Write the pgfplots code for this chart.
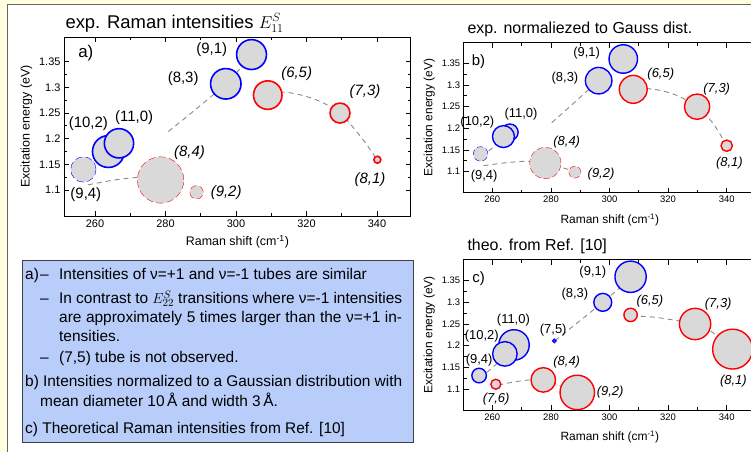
\documentclass[border=0pt]{standalone}
\usepackage{fontspec}
\setmainfont{Liberation Sans}
\usepackage{pgfplots}
\pgfplotsset{compat=1.18}

\definecolor{slidebg}{HTML}{FFFFE0}
\definecolor{boxblue}{HTML}{B9CDFA}
\definecolor{bubble}{HTML}{D9D9D9}
\definecolor{famline}{HTML}{8A8A8A}

\pgfplotsset{
  panel/.style={
    clip=false,
    axis line style={line width=1bp},
    tick align=inside,
    xtick={260,280,300,320,340},
    ytick={1.1,1.15,1.2,1.25,1.3,1.35},
    minor x tick num=1, minor y tick num=1,
    major tick length=5bp, minor tick length=3bp,
    tick style={black, line width=0.8bp},
    yticklabel style={/pgf/number format/fixed, /pgf/number format/precision=2},
    /pgf/number format/assume math mode=true,
    xlabel={Raman shift (cm\textsuperscript{-1})},
    ylabel={Excitation energy (eV)},
    xlabel style={yshift=-4bp},
  },
  bub/.style={scatter, only marks, mark=*,
    scatter/use mapped color={draw=#1, fill=bubble},
    visualization depends on={\thisrow{r}\as\rad},
    scatter/@pre marker code/.append style={/tikz/mark size=\rad}},
  fam/.style={famline, dash pattern=on 5bp off 4bp, line width=0.9bp, smooth, no marks},
}

\begin{document}
\begin{tikzpicture}
\useasboundingbox (0,0) rectangle (751bp,-452bp);
\fill[slidebg] (0,0) rectangle (751bp,-452bp);
\fill[white] (7bp,-4bp) rectangle (760bp,-460bp);
\draw[black!60, line width=0.8bp] (7bp,-460bp) |- (760bp,-4bp);

% ---------- panel a ----------
\node[anchor=base west, font=\fontsize{18.5}{20}\selectfont] at (62bp,-28bp) {exp. Raman intensities $E^S_{11}$};
\begin{axis}[panel, at={(64bp,-216bp)}, anchor=south west,
  x=3.525bp, y=513bp,
  xmin=251.2, xmax=349.6, ymin=1.0493, ymax=1.398,
  xlabel style={yshift=3bp},
  tick label style={font=\fontsize{11}{12}\selectfont},
  label style={font=\fontsize{12.5}{14}\selectfont},
  mark options={line width=1.6bp}]
\addplot[bub=blue] table {
x y r
263.8 1.175 16
266.8 1.191 14.7
297.1 1.307 15.3
304.4 1.364 15
};
\addplot[bub=blue, mark options={dash pattern=on 7bp off 3.5bp}] table {
x y r
256.7 1.140 12.7
};
\addplot[bub=red] table {
x y r
309.0 1.285 14.3
329.5 1.250 10
340.1 1.159 3.5
};
\addplot[bub=red, mark options={dash pattern=on 7bp off 3.5bp}] table {
x y r
278.6 1.1195 23.3
288.8 1.0955 6.7
};
\addplot[fam] coordinates {(254.8,1.126) (261,1.163) (268,1.207)};
\addplot[fam] coordinates {(280.8,1.214) (297.1,1.307) (307.3,1.3865)};
\addplot[fam] coordinates {(258,1.110) (266,1.120) (273.7,1.125) (278.6,1.1195) (284.6,1.097)};
\addplot[fam] coordinates {(307.3,1.291) (312,1.291) (316.3,1.2885) (322.9,1.2754) (329.5,1.25) (336.1,1.1975) (340,1.159)};
\begin{scope}[every node/.style={font=\fontsize{15}{16}\selectfont}]
\node at (axis cs:257.4,1.367) {\fontsize{17}{18}\selectfont a)};
\node at (axis cs:293.1,1.373) {(9,1)};
\node at (axis cs:285.0,1.318) {(8,3)};
\node at (axis cs:258.1,1.229) {(10,2)};
\node at (axis cs:271.1,1.242) {(11,0)};
\node at (axis cs:257.4,1.0916) {(9,4)};
\node[font=\fontsize{15}{16}\selectfont\itshape] at (axis cs:317.2,1.326) {(6,5)};
\node[font=\fontsize{15}{16}\selectfont\itshape] at (axis cs:336.6,1.292) {(7,3)};
\node[font=\fontsize{15}{16}\selectfont\itshape] at (axis cs:338.0,1.1195) {(8,1)};
\node[font=\fontsize{15}{16}\selectfont\itshape] at (axis cs:286.8,1.1736) {(8,4)};
\node[font=\fontsize{15}{16}\selectfont\itshape] at (axis cs:297.2,1.0947) {(9,2)};
\end{scope}
\end{axis}

% ---------- panel b ----------
\node[anchor=base west, font=\fontsize{16}{18}\selectfont] at (464bp,-33bp) {exp. normaliezed to Gauss dist.};
\begin{axis}[panel, at={(463.7bp,-192.7bp)}, anchor=south west,
  x=2.93bp, y=433.6bp,
  xmin=250.24, xmax=350, ymin=1.0516, ymax=1.398,
  tick label style={font=\fontsize{9.5}{11}\selectfont},
  label style={font=\fontsize{12}{13}\selectfont},
  mark options={line width=1.4bp}]
\addplot[bub=blue] table {
x y r
266.0 1.191 8.3
263.8 1.181 11
296.3 1.310 13.3
304.7 1.360 14.3
};
\addplot[bub=blue, mark options={dash pattern=on 6bp off 3bp}] table {
x y r
256.0 1.141 7.3
};
\addplot[bub=red] table {
x y r
308.1 1.290 14
329.9 1.250 12.7
340.0 1.160 5.7
};
\addplot[bub=red, mark options={dash pattern=on 6bp off 3bp}] table {
x y r
278.1 1.120 15.7
288.2 1.099 6
};
\addplot[fam] coordinates {(256.4,1.1346) (266.6,1.192)};
\addplot[fam] coordinates {(280.3,1.213) (296.3,1.31) (305.9,1.369)};
\addplot[fam] coordinates {(257,1.114) (265,1.121) (272,1.124) (278.1,1.12) (286.5,1.104)};
\addplot[fam] coordinates {(306.4,1.292) (312,1.292) (317,1.288) (323,1.276) (329.9,1.25) (335.5,1.21) (340,1.16)};
\begin{scope}[every node/.style={font=\fontsize{13}{14}\selectfont}]
\node at (axis cs:255.3,1.354) {\fontsize{15}{16}\selectfont b)};
\node at (axis cs:292.2,1.373) {(9,1)};
\node at (axis cs:284.8,1.315) {(8,3)};
\node at (axis cs:254.9,1.214) {(10,2)};
\node at (axis cs:269.8,1.233) {(11,0)};
\node at (axis cs:257.2,1.090) {(9,4)};
\node[font=\fontsize{13}{14}\selectfont\itshape] at (axis cs:317.5,1.325) {(6,5)};
\node[font=\fontsize{13}{14}\selectfont\itshape] at (axis cs:336.6,1.290) {(7,3)};
\node[font=\fontsize{13}{14}\selectfont\itshape] at (axis cs:340.9,1.119) {(8,1)};
\node[font=\fontsize{13}{14}\selectfont\itshape] at (axis cs:285.4,1.169) {(8,4)};
\node[font=\fontsize{13}{14}\selectfont\itshape] at (axis cs:297.1,1.0947) {(9,2)};
\end{scope}
\end{axis}

% ---------- panel c ----------
\node[anchor=base west, font=\fontsize{16}{18}\selectfont] at (464bp,-250bp) {theo. from Ref. [10]};
\begin{axis}[panel, at={(463.7bp,-410bp)}, anchor=south west,
  x=2.93bp, y=433.3bp,
  xmin=250.24, xmax=350, ymin=1.0515, ymax=1.398,
  tick label style={font=\fontsize{9.5}{11}\selectfont},
  label style={font=\fontsize{12}{13}\selectfont},
  mark options={line width=1.4bp}]
\addplot[bub=blue] table {
x y r
255.5 1.131 7.3
267.4 1.2016 15.3
264.3 1.181 12.3
281.2 1.211 1.7
297.7 1.300 9
307.2 1.359 15.7
};
\addplot[bub=red] table {
x y r
307.2 1.271 6.7
329.2 1.250 15.7
342.0 1.192 20
261.2 1.111 5
277.4 1.121 12.3
289.0 1.092 17.3
};
\addplot[fam] coordinates {(255.8,1.1247) (268.3,1.198)};
\addplot[fam] coordinates {(281.4,1.2115) (297.7,1.30) (307.6,1.358)};
\addplot[fam] coordinates {(262,1.109) (268,1.117) (273,1.121) (277.4,1.121) (283,1.108) (290,1.0845)};
\addplot[fam] coordinates {(307.6,1.2686) (315,1.266) (322,1.259) (329.2,1.25) (336,1.227) (342,1.19)};
\begin{scope}[every node/.style={font=\fontsize{13}{14}\selectfont}]
\node at (axis cs:255.3,1.355) {\fontsize{15}{16}\selectfont c)};
\node at (axis cs:294.3,1.3686) {(9,1)};
\node at (axis cs:288.2,1.319) {(8,3)};
\node at (axis cs:256.4,1.2224) {(10,2)};
\node at (axis cs:267.2,1.259) {(11,0)};
\node at (axis cs:255.5,1.167) {(9,4)};
\node at (axis cs:280.8,1.236) {(7,5)};
\node[font=\fontsize{13}{14}\selectfont\itshape] at (axis cs:313.8,1.3016) {(6,5)};
\node[font=\fontsize{13}{14}\selectfont\itshape] at (axis cs:337.1,1.296) {(7,3)};
\node[font=\fontsize{13}{14}\selectfont\itshape] at (axis cs:342.3,1.117) {(8,1)};
\node[font=\fontsize{13}{14}\selectfont\itshape] at (axis cs:285.4,1.161) {(8,4)};
\node[font=\fontsize{13}{14}\selectfont\itshape] at (axis cs:300.2,1.0938) {(9,2)};
\node[font=\fontsize{13}{14}\selectfont\itshape] at (axis cs:261.3,1.076) {(7,6)};
\end{scope}
\end{axis}

% ---------- text box ----------
\draw[fill=boxblue, draw=black!75, line width=0.8bp] (22.7bp,-260bp) rectangle (413.7bp,-442.7bp);
\begin{scope}[every node/.style={anchor=base west, inner sep=0pt, font=\fontsize{15.5}{17}\selectfont}]
\node at (25bp,-279.3bp) {a)};
\node at (40bp,-279.3bp) {–};
\node at (59bp,-279.3bp) {Intensities of ν=+1 and ν=-1 tubes are similar};
\node at (40bp,-303.3bp) {–};
\node at (59bp,-303.3bp) {\makebox[343bp][s]{In contrast to $E^S_{22}$ transitions where ν=-1 intensities}};
\node at (59bp,-322.7bp) {\makebox[343bp][s]{are approximately 5 times larger than the ν=+1 in-}};
\node at (59bp,-341.7bp) {tensities.};
\node at (40bp,-362.7bp) {–};
\node at (59bp,-362.7bp) {(7,5) tube is not observed.};
\node at (25bp,-386bp) {\makebox[377bp][s]{b) Intensities normalized to a Gaussian distribution with}};
\node at (40bp,-406.7bp) {mean diameter 10\,Å and width 3\,Å.};
\node at (25bp,-433.3bp) {c) Theoretical Raman intensities from Ref. [10]};
\end{scope}
\end{tikzpicture}
\end{document}
